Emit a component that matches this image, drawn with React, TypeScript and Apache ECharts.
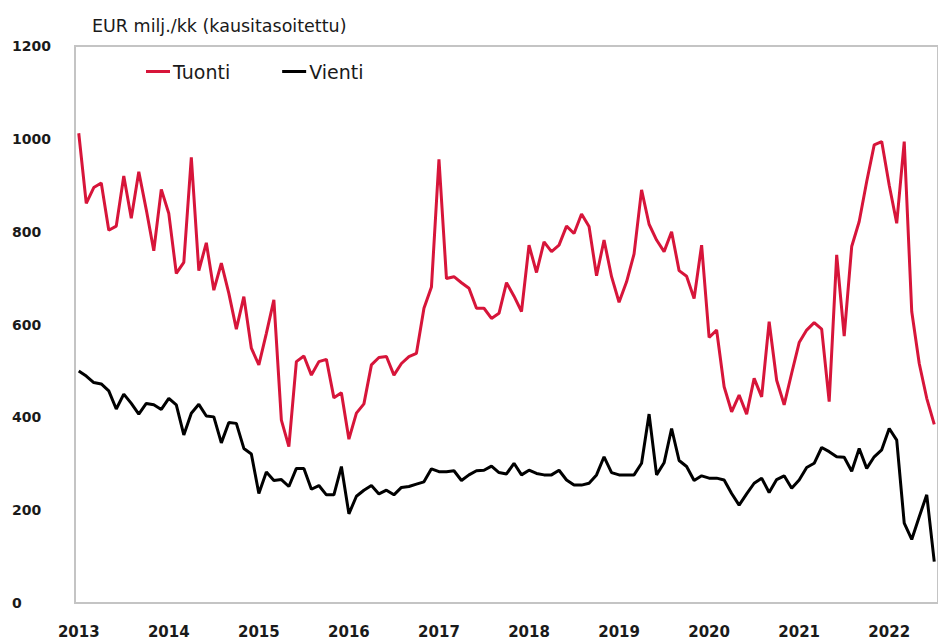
import React, { useEffect, useRef } from "react";
import * as echarts from "echarts";

const startYear = 2013;
const monthCount = 115;
const months: string[] = Array.from({ length: monthCount }, (_, i) => {
  const y = startYear + Math.floor(i / 12);
  const m = (i % 12) + 1;
  return `${y}-${m < 10 ? "0" + m : m}`;
});

const tuonti: number[] = [
  1012, 861, 895, 905, 803, 812, 920, 829, 929, 847, 759, 891,
  839, 710, 734, 960, 716, 776, 674, 732, 667, 590, 660, 549,
  513, 581, 653, 394, 337, 520, 532, 491, 520, 525, 442, 453,
  353, 409, 429, 513, 529, 531, 491, 516, 531, 538, 635, 681,
  956, 699, 703, 690, 678, 635, 635, 613, 624, 690, 661, 628,
  771, 712, 778, 757, 771, 812, 796, 838, 811, 705, 782, 703,
  648, 692, 752, 890, 816, 782, 757, 800, 716, 704, 656, 771,
  572, 588, 466, 412, 448, 407, 484, 444, 606, 480, 427, 495,
  561, 588, 604, 590, 434, 750, 575, 768, 822, 908, 987, 994,
  900, 818, 994, 628, 516, 441, 385,
];

const vienti: number[] = [
  500, 489, 475, 472, 457, 418, 450, 430, 407, 430, 427, 417,
  441, 427, 362, 409, 428, 403, 401, 345, 389, 387, 333, 321,
  236, 282, 264, 266, 251, 290, 290, 245, 253, 233, 233, 294,
  192, 230, 243, 253, 235, 243, 233, 249, 251, 256, 261, 289,
  283, 283, 285, 264, 276, 285, 286, 295, 281, 278, 301, 276,
  286, 279, 276, 276, 286, 265, 254, 254, 258, 276, 315, 281,
  276, 276, 276, 301, 407, 276, 302, 376, 307, 294, 264, 274,
  269, 269, 265, 236, 211, 235, 258, 269, 238, 266, 274, 247,
  265, 292, 301, 335, 326, 315, 314, 284, 333, 290, 315, 330,
  376, 351, 172, 137, 186, 233, 89,
];

const yTicks = { min: 0, max: 1200, interval: 200 };
const titleText = "EUR milj./kk (kausitasoitettu)";
const seriesNames = ["Tuonti", "Vienti"];
const colors = ["#d7153a", "#000000"];

export default function App() {
  const ref = useRef<HTMLDivElement>(null);
  useEffect(() => {
    if (!ref.current) return;
    const chart = echarts.init(ref.current, null, { renderer: "svg" });
    const font = "'DejaVu Sans', sans-serif";
    chart.setOption({
      animation: false,
      backgroundColor: "#ffffff",
      textStyle: { fontFamily: font },
      title: {
        text: titleText,
        left: 92,
        top: 17,
        padding: 0,
        textStyle: { fontFamily: font, fontSize: 17.5, fontWeight: "normal", color: "#1a1a1a" },
      },
      legend: {
        left: 146,
        top: 62,
        padding: 0,
        itemGap: 52,
        itemWidth: 24,
        itemHeight: 3,
        icon: "rect",
        textStyle: { fontFamily: font, fontSize: 19, color: "#1a1a1a", padding: [0, 0, 0, -2] },
        data: seriesNames,
      },
      grid: {
        left: 75,
        top: 46,
        right: -4,
        bottom: 41,
        show: true,
        borderColor: "#c4c4c4",
        borderWidth: 2,
      },
      xAxis: {
        type: "category",
        data: months,
        boundaryGap: true,
        axisLine: { show: true, lineStyle: { color: "#c4c4c4", width: 2 } },
        axisTick: { show: false },
        splitLine: { show: false },
        axisLabel: {
          interval: (index: number) => index % 12 === 0,
          formatter: (v: string) => v.slice(0, 4),
          margin: 21,
          fontFamily: font,
          fontSize: 15,
          fontWeight: "bold",
          color: "#1a1a1a",
        },
      },
      yAxis: {
        type: "value",
        min: yTicks.min,
        max: yTicks.max,
        interval: yTicks.interval,
        axisLine: { show: true, lineStyle: { color: "#c4c4c4", width: 2 } },
        axisTick: { show: false },
        splitLine: { show: false },
        axisLabel: {
          align: "left",
          margin: 63,
          formatter: (v: number) => String(v),
          fontFamily: font,
          fontSize: 14,
          fontWeight: "bold",
          color: "#1a1a1a",
        },
      },
      series: [
        {
          name: seriesNames[0],
          type: "line",
          data: tuonti,
          symbol: "none",
          lineStyle: { color: colors[0], width: 3 },
          itemStyle: { color: colors[0] },
        },
        {
          name: seriesNames[1],
          type: "line",
          data: vienti,
          symbol: "none",
          lineStyle: { color: colors[1], width: 3 },
          itemStyle: { color: colors[1] },
        },
      ],
    });
    return () => chart.dispose();
  }, []);
  return (
    <div
      ref={ref}
      style={{ position: "fixed", left: 0, top: 0, width: 938, height: 644 }}
    />
  );
}
